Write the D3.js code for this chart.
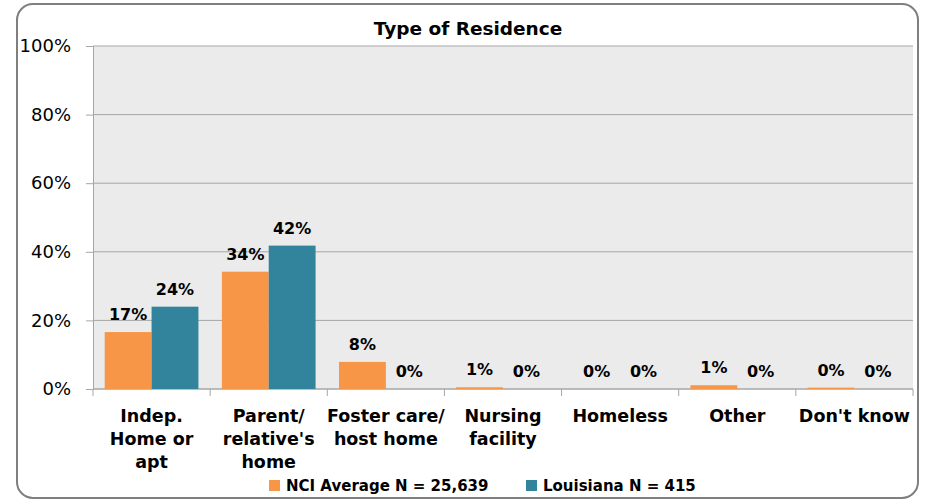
<!DOCTYPE html>
<html>
<head>
<meta charset="utf-8">
<script src="https://cdn.jsdelivr.net/npm/d3@7"></script>
<style>
  body { margin: 0; background: #fff; }
  text { font-family: "DejaVu Sans", sans-serif; fill: #000; }
</style>
</head>
<body>
<svg></svg>
<script>
const categories = [
    ['Indep.', 'Home or', 'apt'],
    ['Parent/', "relative's", 'home'],
    ['Foster care/', 'host home'],
    ['Nursing', 'facility'],
    ['Homeless'],
    ['Other'],
    ["Don't know"]
];
const seriesNames = ['NCI Average N = 25,639', 'Louisiana N = 415'];
const nciValues = [16.6, 34.2, 7.9, 0.5, 0, 1.1, 0.4];
const louisianaValues = [24.0, 41.8, 0, 0, 0, 0, 0];
const yTicks = [0, 20, 40, 60, 80, 100];
const colors = ['#F79646', '#31849B'];

const svgWidth = 928;
const svgHeight = 502;
const margin = { top: 46, right: 15, bottom: 113, left: 93 };
const width = svgWidth - margin.left - margin.right;
const height = svgHeight - margin.top - margin.bottom;

const keys = categories.map(c => c.join(' '));
const data = keys.map((k, i) => ({ key: k, lines: categories[i], values: [nciValues[i], louisianaValues[i]] }));

const svg = d3.select('svg')
    .attr('width', svgWidth)
    .attr('height', svgHeight);

// outer frame
svg.append('rect')
    .attr('x', 17).attr('y', 4)
    .attr('width', 901).attr('height', 494)
    .attr('rx', 16)
    .attr('fill', '#fff')
    .attr('stroke', '#7f7f7f')
    .attr('stroke-width', 2);

svg.append('text')
    .attr('x', 468)
    .attr('y', 35)
    .attr('text-anchor', 'middle')
    .attr('font-size', '18.5px')
    .attr('font-weight', 'bold')
    .text('Type of Residence');

const g = svg.append('g')
    .attr('transform', `translate(${margin.left}, ${margin.top})`);

const xScale = d3.scaleBand()
    .domain(keys)
    .range([0, width])
    .padding(0);

const xInner = d3.scaleBand()
    .domain([0, 1])
    .range([0, xScale.bandwidth()])
    .paddingInner(0)
    .paddingOuter(0.25);

const yScale = d3.scaleLinear()
    .domain([0, 100])
    .range([height, 0]);

g.append('rect')
    .attr('width', width)
    .attr('height', height)
    .attr('fill', '#ebebeb');

g.selectAll('.grid')
    .data(yTicks)
    .enter().append('line')
    .attr('class', 'grid')
    .attr('x1', 0).attr('x2', width)
    .attr('y1', d => yScale(d)).attr('y2', d => yScale(d))
    .attr('stroke', '#a6a6a6')
    .attr('stroke-width', 1);

const yAxis = g.append('g')
    .call(d3.axisLeft(yScale).tickValues(yTicks).tickFormat(d => d + '%').tickSize(7).tickPadding(15));
yAxis.select('.domain').attr('stroke', '#a6a6a6');
yAxis.selectAll('.tick line').attr('stroke', '#a6a6a6');
yAxis.selectAll('.tick text')
    .attr('font-family', '"DejaVu Sans", sans-serif')
    .attr('font-size', '18px')
    .attr('fill', '#000');

// x axis line and boundary ticks
g.append('line')
    .attr('x1', 0).attr('x2', width)
    .attr('y1', height).attr('y2', height)
    .attr('stroke', '#a6a6a6');

const bounds = keys.map(k => xScale(k)).concat([xScale.range()[1]]);
g.selectAll('.xtick')
    .data(bounds)
    .enter().append('line')
    .attr('class', 'xtick')
    .attr('x1', d => d).attr('x2', d => d)
    .attr('y1', height).attr('y2', height + 7)
    .attr('stroke', '#a6a6a6');

const groups = g.selectAll('.cat')
    .data(data)
    .enter().append('g')
    .attr('class', 'cat')
    .attr('transform', d => `translate(${xScale(d.key)}, 0)`);

groups.selectAll('rect')
    .data(d => d.values)
    .enter().append('rect')
    .attr('x', (d, i) => xInner(i))
    .attr('width', xInner.bandwidth())
    .attr('y', d => yScale(d))
    .attr('height', d => height - yScale(d))
    .attr('fill', (d, i) => colors[i]);

groups.selectAll('.label')
    .data(d => d.values)
    .enter().append('text')
    .attr('class', 'label')
    .attr('x', (d, i) => xInner(i) + xInner.bandwidth() / 2)
    .attr('y', d => yScale(d) - 12)
    .attr('text-anchor', 'middle')
    .attr('font-size', '16px')
    .attr('font-weight', 'bold')
    .text(d => Math.round(d) + '%');

groups.append('text')
    .attr('text-anchor', 'middle')
    .attr('font-size', '17.5px')
    .attr('font-weight', 'bold')
    .selectAll('tspan')
    .data(d => d.lines)
    .enter().append('tspan')
    .attr('x', xScale.bandwidth() / 2)
    .attr('y', (d, i) => height + 33 + i * 23)
    .text(d => d);

// legend
const legendX = [269, 526];
const legend = svg.selectAll('.legend')
    .data(seriesNames)
    .enter().append('g')
    .attr('class', 'legend')
    .attr('transform', (d, i) => `translate(${legendX[i]}, 480)`);

legend.append('rect')
    .attr('width', 11).attr('height', 11)
    .attr('fill', (d, i) => colors[i]);

legend.append('text')
    .attr('x', 17)
    .attr('y', 11)
    .attr('font-size', '15px')
    .attr('font-weight', 'bold')
    .text(d => d);
</script>
</body>
</html>
